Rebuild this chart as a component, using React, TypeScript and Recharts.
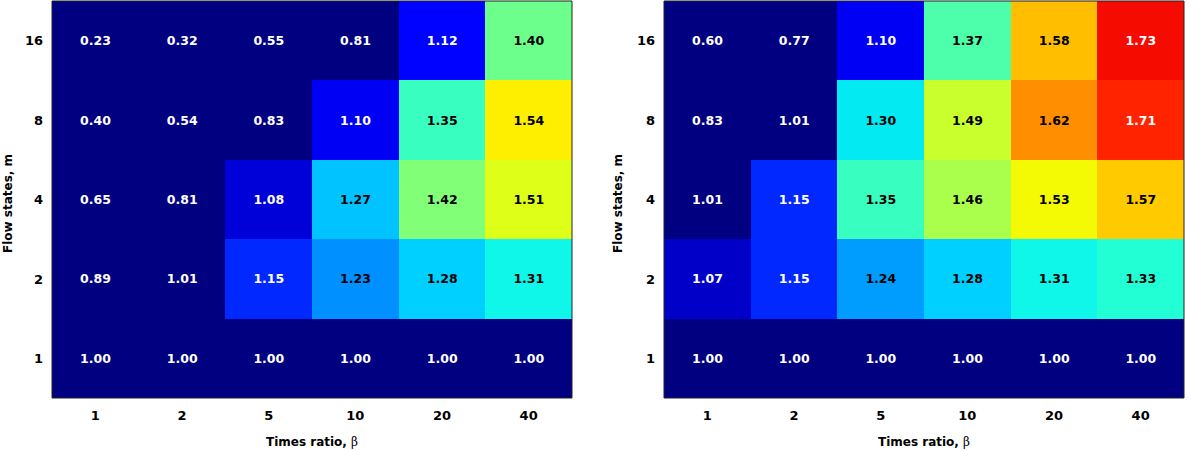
import React from "react";
import { BarChart, Bar, XAxis, YAxis, Cell, LabelList } from "recharts";

const BETA_LABELS = ["1", "2", "5", "10", "20", "40"];
const M_LABELS = ["1", "2", "4", "8", "16"];
const Y_TICKS = [0.5, 1.5, 2.5, 3.5, 4.5];

// Left panel, rows m = 1, 2, 4, 8, 16
const LEFT_M1 = [1.0, 1.0, 1.0, 1.0, 1.0, 1.0];
const LEFT_M2 = [0.89, 1.01, 1.15, 1.23, 1.28, 1.31];
const LEFT_M4 = [0.65, 0.81, 1.08, 1.27, 1.42, 1.51];
const LEFT_M8 = [0.4, 0.54, 0.83, 1.1, 1.35, 1.54];
const LEFT_M16 = [0.23, 0.32, 0.55, 0.81, 1.12, 1.4];

// Right panel, rows m = 1, 2, 4, 8, 16
const RIGHT_M1 = [1.0, 1.0, 1.0, 1.0, 1.0, 1.0];
const RIGHT_M2 = [1.07, 1.15, 1.24, 1.28, 1.31, 1.33];
const RIGHT_M4 = [1.01, 1.15, 1.35, 1.46, 1.53, 1.57];
const RIGHT_M8 = [0.83, 1.01, 1.3, 1.49, 1.62, 1.71];
const RIGHT_M16 = [0.6, 0.77, 1.1, 1.37, 1.58, 1.73];

const LEFT_ROWS = [LEFT_M1, LEFT_M2, LEFT_M4, LEFT_M8, LEFT_M16];
const RIGHT_ROWS = [RIGHT_M1, RIGHT_M2, RIGHT_M4, RIGHT_M8, RIGHT_M16];

const VMIN = 1.02;
const VMAX = 1.81;
const FONT = "'DejaVu Sans', sans-serif";
const FRAME = "#222";

type Seg = [number, number][];
const JET_R: Seg = [[0, 0], [0.35, 0], [0.66, 1], [0.89, 1], [1, 0.5]];
const JET_G: Seg = [[0, 0], [0.125, 0], [0.375, 1], [0.64, 1], [0.91, 0], [1, 0]];
const JET_B: Seg = [[0, 0.5], [0.11, 1], [0.34, 1], [0.65, 0], [1, 0]];

function seg(s: Seg, t: number) {
  for (let i = 1; i < s.length; i++) {
    if (t <= s[i][0]) {
      const [x0, y0] = s[i - 1];
      const [x1, y1] = s[i];
      return y0 + ((t - x0) / (x1 - x0)) * (y1 - y0);
    }
  }
  return s[s.length - 1][1];
}

function norm(v: number) {
  return Math.max(0, Math.min(1, (v - VMIN) / (VMAX - VMIN)));
}

function jet(v: number) {
  const t = norm(v);
  const c = (x: number) => Math.round(x * 255);
  return `rgb(${c(seg(JET_R, t))},${c(seg(JET_G, t))},${c(seg(JET_B, t))})`;
}

function textColor(v: number) {
  const t = norm(v);
  return t < 0.2 || t > 0.85 ? "#ffffff" : "#000000";
}

function buildData(rows: number[][]) {
  return BETA_LABELS.map((b, i) => {
    const d: Record<string, any> = { beta: b };
    rows.forEach((row, k) => {
      d[`r${k}`] = 1;
      d[`v${k}`] = row[i];
    });
    return d;
  });
}

const CellLabel = (props: any) => {
  const { x, y, width, height, value } = props;
  return (
    <text
      x={x + width / 2}
      y={y + height / 2}
      textAnchor="middle"
      dominantBaseline="central"
      fill={textColor(value)}
      fontFamily={FONT}
      fontSize={12.5}
      fontWeight="bold"
    >
      {Number(value).toFixed(2)}
    </text>
  );
};

const XLabel = (props: any) => {
  const vb = props.viewBox;
  return (
    <text
      x={vb.x + vb.width / 2}
      y={vb.y + 48}
      textAnchor="middle"
      fontFamily={FONT}
      fontSize={12}
      fontWeight="bold"
      fill="#000"
    >
      Times ratio,{" "}
      <tspan fontFamily="'DejaVu Serif', serif" fontWeight="normal">
        β
      </tspan>
    </text>
  );
};

const makeYLabel = (offset: number) => (props: any) => {
  const vb = props.viewBox;
  const cx = vb.x + offset;
  const cy = vb.y + vb.height / 2 + 4;
  return (
    <text
      x={cx}
      y={cy}
      transform={`rotate(-90, ${cx}, ${cy})`}
      textAnchor="middle"
      fontFamily={FONT}
      fontSize={12}
      fontWeight="bold"
      fill="#000"
    >
      Flow states, m
    </text>
  );
};

type PanelProps = {
  rows: number[][];
  width: number;
  yAxisWidth: number;
  marginRight: number;
  yLabelOffset: number;
};

const tickStyle = { fontFamily: FONT, fontSize: 13, fontWeight: "bold", fill: "#000" };

function Panel({ rows, width, yAxisWidth, marginRight, yLabelOffset }: PanelProps) {
  const data = buildData(rows);
  return (
    <BarChart
      width={width}
      height={450}
      data={data}
      margin={{ top: 0, right: marginRight, bottom: 0, left: 0 }}
      barCategoryGap={0}
      barGap={0}
    >
      <XAxis
        dataKey="beta"
        type="category"
        height={52}
        tickLine={false}
        tickMargin={7}
        axisLine={{ stroke: FRAME, strokeWidth: 1 }}
        tick={tickStyle}
        interval={0}
        label={<XLabel />}
      />
      <XAxis
        xAxisId="top"
        dataKey="beta"
        type="category"
        orientation="top"
        height={1}
        tick={false}
        tickLine={false}
        axisLine={{ stroke: FRAME, strokeWidth: 1 }}
      />
      <YAxis
        type="number"
        domain={[0, 5]}
        ticks={Y_TICKS}
        width={yAxisWidth}
        tickLine={false}
        tickMargin={3}
        axisLine={{ stroke: FRAME, strokeWidth: 1 }}
        tick={tickStyle}
        tickFormatter={(v: number) => M_LABELS[Math.floor(v)]}
        label={React.createElement(makeYLabel(yLabelOffset))}
        allowDataOverflow
      />
      <YAxis
        yAxisId="right"
        type="number"
        orientation="right"
        domain={[0, 5]}
        width={1}
        tick={false}
        tickLine={false}
        axisLine={{ stroke: FRAME, strokeWidth: 1 }}
      />
      {rows.map((row, k) => (
        <Bar key={k} dataKey={`r${k}`} stackId="s" isAnimationActive={false}>
          {row.map((v, i) => (
            <Cell key={i} fill={jet(v)} stroke="none" style={{ shapeRendering: "crispEdges" }} />
          ))}
          <LabelList dataKey={`v${k}`} content={<CellLabel />} />
        </Bar>
      ))}
    </BarChart>
  );
}

export default function App() {
  return (
    <div
      style={{
        position: "absolute",
        left: 0,
        top: 0,
        width: 1191,
        height: 450,
        background: "#fff",
        display: "flex",
        overflow: "hidden",
      }}
    >
      <Panel rows={LEFT_ROWS} width={590} yAxisWidth={52} marginRight={17} yLabelOffset={12} />
      <Panel rows={RIGHT_ROWS} width={601} yAxisWidth={74} marginRight={6} yLabelOffset={32} />
    </div>
  );
}
